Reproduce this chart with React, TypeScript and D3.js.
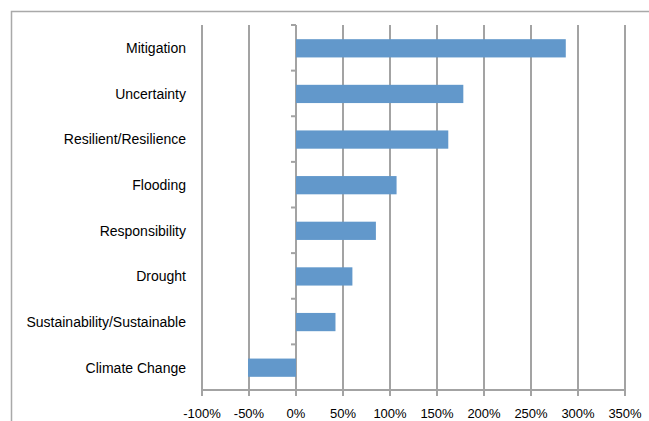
import React from "react";
import * as d3 from "d3";

const categories = [
  "Mitigation",
  "Uncertainty",
  "Resilient/Resilience",
  "Flooding",
  "Responsibility",
  "Drought",
  "Sustainability/Sustainable",
  "Climate Change",
];
const values = [287, 178, 162, 107, 85, 60, 42, -51];
const xTicks = [-100, -50, 0, 50, 100, 150, 200, 250, 300, 350];

const W = 649;
const H = 421;
const left = 202;
const right = 625;
const top = 25.5;
const bottom = 390;
const grid = "#a3a3a3";
const barColor = "#6298cb";
const font = "'Liberation Sans', Arial, Helvetica, sans-serif";

export default function App() {
  const x = d3.scaleLinear().domain([-100, 350]).range([left, right]);
  const y = d3
    .scaleBand<string>()
    .domain(categories)
    .range([top, bottom + 0.5])
    .paddingInner(0.6)
    .paddingOuter(0.3);
  const step = y.step();
  const yTicks = d3.range(categories.length + 1).map((i) => top - 0.5 + i * step);
  const x0 = x(0);

  return (
    <svg width={W} height={H} style={{ position: "fixed", left: 0, top: 0, background: "#fff" }}>
      {/* chart frame */}
      <path d={`M11.5,${H}V11.5H${W}`} fill="none" stroke="#a9a9a9" strokeWidth={1.5} />
      {/* vertical gridlines and bottom ticks */}
      {xTicks.map((t) => (
        <line key={t} x1={x(t)} x2={x(t)} y1={25} y2={bottom + 6} stroke={grid} strokeWidth={2} />
      ))}
      {/* bottom axis line */}
      <line x1={left} x2={right} y1={bottom} y2={bottom} stroke={grid} strokeWidth={2} />
      {/* category axis at zero with ticks */}
      {yTicks.map((ty, i) => (
        <line key={i} x1={x0 - 5} x2={x0} y1={ty} y2={ty} stroke={grid} strokeWidth={2} />
      ))}
      {/* bars */}
      {categories.map((c, i) => {
        const v = values[i];
        return (
          <rect
            key={c}
            x={Math.min(x(v), x0)}
            y={y(c)}
            width={Math.abs(x(v) - x0)}
            height={y.bandwidth()}
            fill={barColor}
          />
        );
      })}
      {/* category labels */}
      {categories.map((c) => (
        <text
          key={c}
          x={186}
          y={(y(c) ?? 0) + y.bandwidth() / 2}
          dy="0.35em"
          textAnchor="end"
          fontFamily={font}
          fontSize={14}
          fill="#000"
        >
          {c}
        </text>
      ))}
      {/* x tick labels */}
      {xTicks.map((t) => (
        <text key={t} x={x(t)} y={418} textAnchor="middle" fontFamily={font} fontSize={13} fill="#000">
          {`${t}%`}
        </text>
      ))}
    </svg>
  );
}
